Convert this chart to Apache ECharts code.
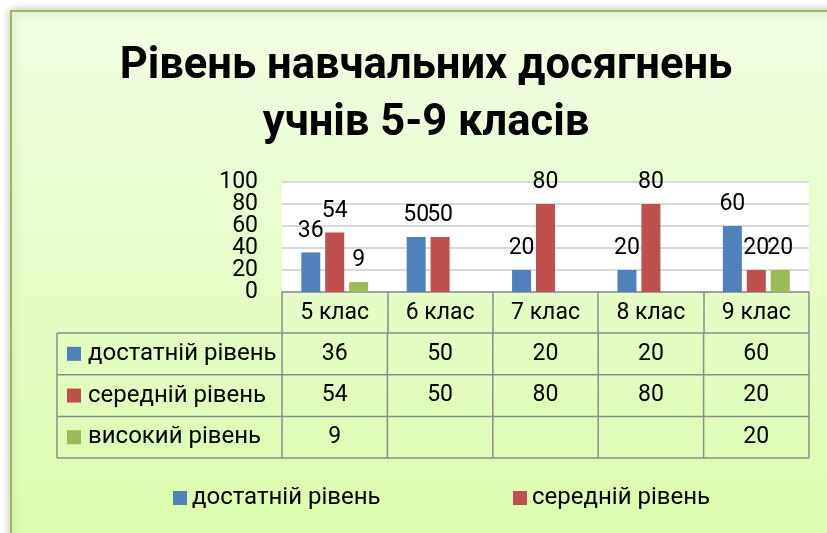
<!DOCTYPE html>
<html><head><meta charset="utf-8">
<script src="https://cdn.jsdelivr.net/npm/echarts@6/dist/echarts.min.js"></script>
<style>html,body{margin:0;padding:0;background:#fff}#c{width:827px;height:533px}</style>
</head><body><div id="c"></div>
<script>
const titleLines = ['Рівень навчальних досягнень', 'учнів 5-9 класів'];
const categories = ['5 клас', '6 клас', '7 клас', '8 клас', '9 клас'];
const seriesNames = ['достатній рівень', 'середній рівень', 'високий рівень'];
const sufficientLevel = [36, 50, 20, 20, 60];
const averageLevel = [54, 50, 80, 80, 20];
const highLevel = [9, null, null, null, 20];
const legendNames = ['достатній рівень', 'середній рівень'];
const yTicks = [0, 20, 40, 60, 80, 100];
const yMin = 0, yMax = 100, yStep = 20;

const colors = ['#4F81BD', '#C0504D', '#9BBB59'];
const seriesValues = [sufficientLevel, averageLevel, highLevel];
const FONT = 'Roboto';
const GRID = {left: 282, right: 18, top: 182, bottom: 241};
const ROW_H = 41.7, HEAD_H = 41, TABLE_LEFT = 57;
const LINE = '#8c8c8c';

const chart = echarts.init(document.getElementById('c'), null, {renderer: 'canvas'});

const baseGraphic = [
  {type: 'rect', z: -10, silent: true,
   shape: {x: 11, y: 11, width: 840, height: 560},
   style: {fill: new echarts.graphic.LinearGradient(0, 0, 0, 1, [
       {offset: 0, color: '#F2FDE4'}, {offset: 1, color: '#D9FCA8'}]),
     stroke: '#9BBB59', lineWidth: 2,
     shadowColor: 'rgba(0,0,0,0.25)', shadowBlur: 8}},
  {type: 'text', silent: true, x: 426, y: 39,
   style: {x: 0, y: 0, text: titleLines.join('\n'), fill: '#000', align: 'center',
     font: 'bold 43.5px ' + FONT, lineHeight: 57}}
];

chart.setOption({
  animation: false,
  textStyle: {fontFamily: FONT},
  grid: {left: GRID.left, right: GRID.right, top: GRID.top, bottom: GRID.bottom,
         show: true, backgroundColor: '#ffffff', borderWidth: 0, containLabel: false},
  legend: [
    {data: [legendNames[0]], left: 168, top: 481, itemWidth: 14, itemHeight: 14, itemGap: 6,
     icon: 'rect', textStyle: {fontSize: 24, color: '#000', fontFamily: FONT}, selectedMode: false},
    {data: [legendNames[1]], left: 508, top: 481, itemWidth: 14, itemHeight: 14, itemGap: 6,
     icon: 'rect', textStyle: {fontSize: 24, color: '#000', fontFamily: FONT}, selectedMode: false}
  ],
  xAxis: {type: 'category', data: categories, boundaryGap: true,
    axisLine: {show: true, lineStyle: {color: LINE, width: 1.5}},
    axisTick: {show: true, interval: 0, length: HEAD_H, inside: false, lineStyle: {color: LINE, width: 1.5}},
    axisLabel: {show: true, interval: 0, margin: 10, fontSize: 23, color: '#000', fontFamily: FONT}},
  yAxis: {type: 'value', min: yMin, max: yMax, interval: yStep,
    axisLine: {show: false}, axisTick: {show: false}, axisLabel: {show: false},
    splitLine: {show: true, lineStyle: {color: '#D9D9D9', width: 2}}},
  series: seriesNames.map((n, i) => ({
    name: n, type: 'bar', data: seriesValues[i], barWidth: 19, barGap: '26%',
    itemStyle: {color: colors[i]},
    label: {show: true, position: 'top', distance: 10, fontSize: 23, color: '#000', fontFamily: FONT}
  })),
  graphic: baseGraphic
});

const tg = [];
// y tick labels placed with the value axis scale (packed tightly, as in the original)
yTicks.forEach(v => {
  const py = chart.convertToPixel({yAxisIndex: 0}, v);
  tg.push({type: 'text', silent: true, style: {x: GRID.left - 24, y: py, text: String(v), fill: '#000',
           font: '23px ' + FONT, verticalAlign: 'middle', align: 'right'}});
});
// data table under the axis, columns taken from the category axis scale
const centers = categories.map(c => chart.convertToPixel({xAxisIndex: 0}, c));
const band = centers.length > 1 ? centers[1] - centers[0] : 100;
const bounds = [centers[0] - band / 2].concat(centers.map(c => c + band / 2));
const axisY = chart.convertToPixel({yAxisIndex: 0}, yMin);
const tableTop = axisY + HEAD_H;
const tableRight = bounds[bounds.length - 1];
for (let r = 0; r <= seriesNames.length; r++) {
  const y = tableTop + r * ROW_H;
  tg.push({type: 'line', silent: true, shape: {x1: TABLE_LEFT, y1: y, x2: tableRight, y2: y},
           style: {stroke: LINE, lineWidth: 1.5}});
}
const tableBottom = tableTop + seriesNames.length * ROW_H;
[TABLE_LEFT].concat(bounds).forEach(x => tg.push({type: 'line', silent: true,
  shape: {x1: x, y1: tableTop, x2: x, y2: tableBottom}, style: {stroke: LINE, lineWidth: 1.5}}));
seriesNames.forEach((n, r) => {
  const cy = tableTop + r * ROW_H + ROW_H / 2;
  tg.push({type: 'rect', silent: true, shape: {x: TABLE_LEFT + 10, y: cy - 7, width: 14, height: 14},
           style: {fill: colors[r]}});
  tg.push({type: 'text', silent: true, style: {x: TABLE_LEFT + 31, y: cy, text: n, fill: '#000',
           font: '24px ' + FONT, verticalAlign: 'middle', align: 'left'}});
  seriesValues[r].forEach((v, j) => {
    if (v == null) return;
    tg.push({type: 'text', silent: true, style: {x: centers[j], y: cy, text: String(v), fill: '#000',
             font: '23px ' + FONT, verticalAlign: 'middle', align: 'center'}});
  });
});
chart.setOption({graphic: baseGraphic.concat(tg)});
</script>
</body></html>
